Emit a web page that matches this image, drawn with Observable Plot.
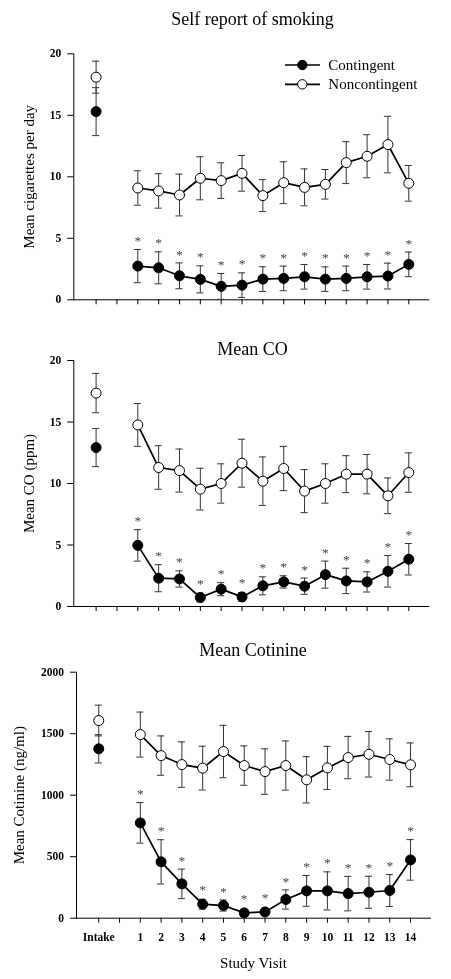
<!DOCTYPE html>
<html><head><meta charset="utf-8">
<script src="https://cdn.jsdelivr.net/npm/d3@7"></script>
<script src="https://cdn.jsdelivr.net/npm/@observablehq/plot@0.6"></script>
<style>
html,body{margin:0;padding:0;background:#fff;overflow:hidden;}
#chart{position:relative;width:451px;height:979px;font-family:"Liberation Serif","Times New Roman",serif;color:#000;}
.panel{position:absolute;left:0;will-change:transform;}
.panel svg{display:block;overflow:visible;}
.title{position:absolute;line-height:1;text-align:center;white-space:nowrap;}
</style></head><body><div id="chart"></div>
<script>
// ---------- data ----------
const visits = [1,2,3,4,5,6,7,8,9,10,11,12,13,14];
const xTickValues = [-1,0,1,2,3,4,5,6,7,8,9,10,11,12,13,14];
const xTickLabels = ["Intake","","1","2","3","4","5","6","7","8","9","10","11","12","13","14"];
const groups = ["Contingent","Noncontingent"];
const sigMark = "*";

// Self report of smoking (cigarettes per day)
const cigIntakeMean = [15.3, 18.1];
const cigIntakeSem  = [1.95, 1.3];
const cigContMean = [2.74,2.6,1.95,1.66,1.09,1.19,1.68,1.74,1.87,1.68,1.74,1.87,1.93,2.88];
const cigContSem  = [1.35,1.3,1.05,1.1,1.05,1.0,1.0,1.0,1.0,1.0,1.0,1.0,1.05,1.0];
const cigNonMean  = [9.09,8.85,8.52,9.88,9.69,10.28,8.47,9.52,9.14,9.39,11.15,11.67,12.62,9.47];
const cigNonSem   = [1.4,1.4,1.7,1.75,1.45,1.45,1.3,1.7,1.5,1.2,1.7,1.75,2.3,1.45];

// Mean CO (ppm)
const coIntakeMean = [12.92, 17.35];
const coIntakeSem  = [1.55, 1.6];
const coContMean = [4.97,2.3,2.24,0.73,1.41,0.78,1.68,2.0,1.65,2.59,2.08,2.0,2.86,3.84];
const coContSem  = [1.28,1.1,0.66,0.35,0.53,0.35,0.73,0.5,0.66,1.1,1.03,0.82,1.28,1.28];
const coNonMean  = [14.76,11.3,11.05,9.54,10.0,11.65,10.19,11.22,9.38,10.0,10.76,10.76,9.0,10.89];
const coNonSem   = [1.74,1.77,1.75,1.7,1.6,1.95,1.97,1.8,1.75,1.6,1.5,1.6,1.45,1.6];

// Mean Cotinine (ng/ml)
const cotIntakeMean = [1377, 1607];
const cotIntakeSem  = [115, 125];
const cotContMean = [775,458,279,114,103,43,51,152,222,222,200,211,225,474];
const cotContSem  = [165,180,120,40,45,30,30,78,125,155,140,130,130,165];
const cotNonMean  = [1493,1322,1249,1220,1355,1241,1192,1241,1125,1222,1306,1333,1290,1247];
const cotNonSem   = [183,160,185,178,213,160,185,200,188,175,172,185,168,178];

const titles = ["Self report of smoking", "Mean CO", "Mean Cotinine"];
const yLabels = ["Mean cigarettes per day", "Mean CO (ppm)", "Mean Cotinine (ng/ml)"];
const yTicks1 = [0,5,10,15,20];
const yTicks3 = [0,500,1000,1500,2000];
const xLabel = "Study Visit";

// ---------- drawing ----------
const FONT = '"Liberation Serif","Times New Roman",serif';
const chart = document.getElementById("chart");

function panel(o) {
  const intake = [0,1].map(g => ({x: -1, g, mean: o.intakeMean[g], sem: o.intakeSem[g]}));
  const cont = visits.map((v,i) => ({x: v, g: 0, mean: o.contMean[i], sem: o.contSem[i]}));
  const non = visits.map((v,i) => ({x: v, g: 1, mean: o.nonMean[i], sem: o.nonSem[i]}));
  const all = [...intake, ...cont, ...non];
  const pxPerUnit = (o.height - o.mt - o.mb) / (o.yDomain[1] - o.yDomain[0]);
  const stars = cont.map(d => ({x: d.x, y: Math.max(d.mean + d.sem + 11.5 / pxPerUnit, d.mean + 17 / pxPerUnit)}));
  const cap = 0.17;
  const svg = Plot.plot({
    width: 451, height: o.height,
    marginTop: o.mt, marginBottom: o.mb, marginLeft: o.ml, marginRight: o.mr,
    x: {type: "linear", domain: [-2.07, 14.96]},
    y: {type: "linear", domain: o.yDomain},
    style: {fontFamily: FONT, fontSize: "11.5px", fontWeight: "bold", color: "#000", background: "transparent"},
    marks: [
      Plot.axisX({ticks: xTickValues, tickSize: 5, tickPadding: 10, label: null,
        tickFormat: o.showX ? (d => xTickLabels[xTickValues.indexOf(d)]) : (() => "")}),
      Plot.axisY({ticks: o.yTicks, tickSize: 6, tickPadding: 6.5, label: null, tickFormat: d => String(d)}),
      Plot.frame({anchor: "left", stroke: "#000"}),
      Plot.frame({anchor: "bottom", stroke: "#000"}),
      Plot.ruleX(all, {x: "x", y1: d => d.mean - d.sem, y2: d => d.mean + d.sem, stroke: "#333", strokeWidth: 1}),
      Plot.ruleY(all, {y: d => d.mean - d.sem, x1: d => d.x - cap, x2: d => d.x + cap, stroke: "#333", strokeWidth: 1}),
      Plot.ruleY(all, {y: d => d.mean + d.sem, x1: d => d.x - cap, x2: d => d.x + cap, stroke: "#333", strokeWidth: 1}),
      Plot.line(cont, {x: "x", y: "mean", stroke: "#000", strokeWidth: 1.7}),
      Plot.line(non, {x: "x", y: "mean", stroke: "#000", strokeWidth: 1.7}),
      Plot.dot(all.filter(d => d.g === 1), {x: "x", y: "mean", r: 5, fill: "#fff", stroke: "#000", strokeWidth: 1}),
      Plot.dot(all.filter(d => d.g === 0), {x: "x", y: "mean", r: 5, fill: "#000", stroke: "#000", strokeWidth: 1}),
      Plot.text(stars, {x: "x", y: "y", text: () => sigMark, fill: "#444", fontSize: 13.5, fontWeight: "normal", lineAnchor: "middle", dy: 2.8}),
      Plot.text([o.yLabel], {frameAnchor: "left", rotate: -90, dx: o.labelDx, lineAnchor: "top", textAnchor: "middle", fontSize: 15, fontWeight: "normal"})
    ]
  });
  const wrap = document.createElement("div");
  wrap.className = "panel";
  wrap.style.top = o.top + "px";
  wrap.appendChild(svg);
  chart.appendChild(wrap);
}

panel({top: 0, height: 320, mt: 53.3, mb: 20.7, ml: 73.3, mr: 22.7, yDomain: [0,20], yTicks: yTicks1,
  yLabel: yLabels[0], labelDx: -50.5, intakeMean: cigIntakeMean, intakeSem: cigIntakeSem,
  contMean: cigContMean, contSem: cigContSem, nonMean: cigNonMean, nonSem: cigNonSem, showX: false});
panel({top: 320, height: 320, mt: 40, mb: 34, ml: 73.3, mr: 22.7, yDomain: [0,20], yTicks: yTicks1,
  yLabel: yLabels[1], labelDx: -50, intakeMean: coIntakeMean, intakeSem: coIntakeSem,
  contMean: coContMean, contSem: coContSem, nonMean: coNonMean, nonSem: coNonSem, showX: false});
panel({top: 640, height: 339, mt: 31.7, mb: 61.3, ml: 76, mr: 21, yDomain: [0,2000], yTicks: yTicks3,
  yLabel: yLabels[2], labelDx: -63, intakeMean: cotIntakeMean, intakeSem: cotIntakeSem,
  contMean: cotContMean, contSem: cotContSem, nonMean: cotNonMean, nonSem: cotNonSem, showX: true});

// titles
function addText(txt, cx, top, size) {
  const d = document.createElement("div");
  d.className = "title";
  d.textContent = txt;
  d.style.fontSize = size + "px";
  d.style.left = (cx - 200) + "px";
  d.style.width = "400px";
  d.style.top = top + "px";
  chart.appendChild(d);
}
addText(titles[0], 252.5, 10, 18);
addText(titles[1], 252.5, 339.7, 18);
addText(titles[2], 253, 641, 18);
addText(xLabel, 253.5, 955.7, 15);

// legend
const leg = d3.create("svg").attr("width", 160).attr("height", 44)
  .style("position", "absolute").style("left", "280px").style("top", "53px").style("overflow", "visible");
groups.forEach((g, i) => {
  const y = 12 + i * 19.3;
  leg.append("line").attr("x1", 5).attr("x2", 40).attr("y1", y).attr("y2", y).attr("stroke", "#000").attr("stroke-width", 1.7);
  leg.append("circle").attr("cx", 22.3).attr("cy", y).attr("r", 4.7)
    .attr("fill", i === 0 ? "#000" : "#fff").attr("stroke", "#000").attr("stroke-width", 1);
  leg.append("text").attr("x", 48.3).attr("y", y).attr("dy", "0.32em")
    .attr("font-family", FONT).attr("font-size", 15).attr("fill", "#000").text(g);
});
chart.appendChild(leg.node());
</script>
</body></html>
